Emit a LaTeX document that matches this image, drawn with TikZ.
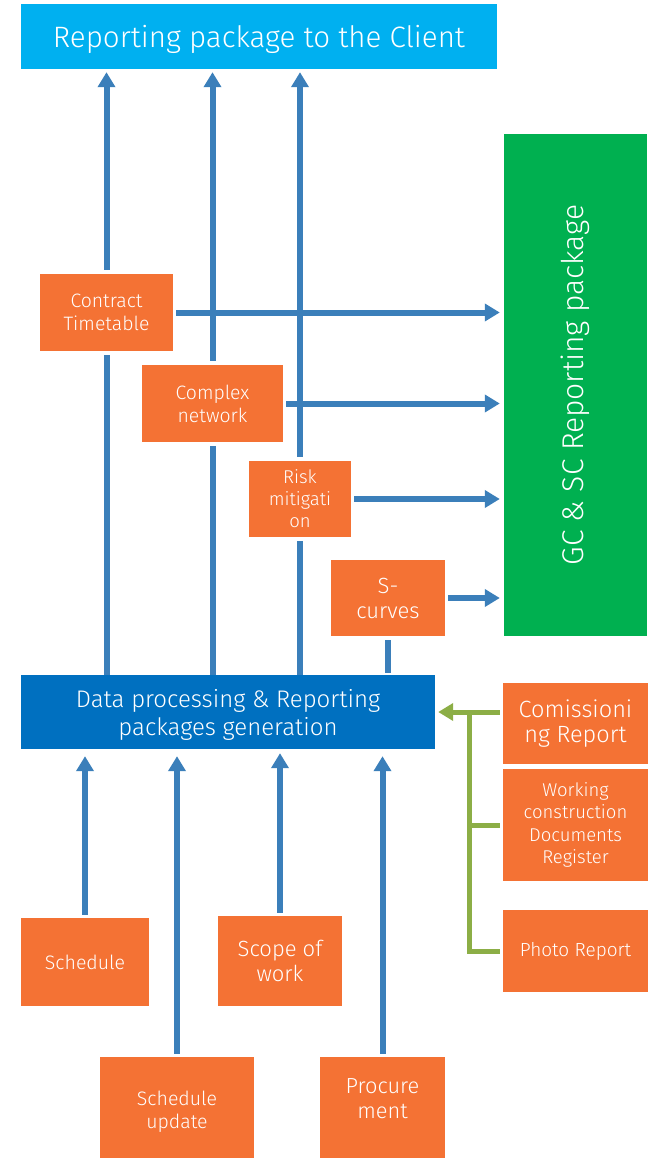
\documentclass[tikz,border=0pt]{standalone}
\usepackage{fontspec}
\setmainfont{Fira Sans Light}
\usetikzlibrary{arrows.meta}
\definecolor{clientblue}{HTML}{00B0F0}
\definecolor{procblue}{HTML}{0070C0}
\definecolor{gcgreen}{HTML}{00B050}
\definecolor{boxorange}{HTML}{F47234}
\definecolor{arrowblue}{HTML}{3B7FBA}
\definecolor{linkgreen}{HTML}{8CAE46}
\tikzset{
  obox/.style={fill=boxorange, text=white, inner sep=0pt, align=center},
  bbox/.style={inner sep=0pt, text=white, align=center},
  bline/.style={draw=arrowblue, line width=6pt},
  barrow/.style={bline, -{Triangle[width=17pt,length=15pt]}},
  gline/.style={draw=linkgreen, line width=5pt},
  garrow/.style={gline, -{Triangle[width=17pt,length=15pt]}},
}
\newcommand{\fsz}[2]{\fontsize{#1}{#2}\selectfont}
\newcommand{\shifted}[2]{\raisebox{#1}[\height][\depth]{\begin{tabular}{@{}c@{}}#2\end{tabular}}}
\begin{document}
\begin{tikzpicture}[x=1pt,y=-1pt]
\useasboundingbox (0,0) rectangle (653,1158);
% boxes
\node[bbox, fill=clientblue, minimum width=476, minimum height=65, font=\fsz{29.5}{34}] (client) at (259,36.5) {\shifted{-4pt}{Reporting package to the Client}};
\node[bbox, fill=gcgreen, rotate=90, minimum width=502, minimum height=143, font=\fsz{30}{34}] (gc) at (575.5,385) {GC \& SC Reporting package};
\node[obox, minimum width=133, minimum height=77, font=\fsz{19.4}{23}] (ct) at (106.5,312.5) {Contract\\Timetable};
\node[obox, minimum width=141, minimum height=77, font=\fsz{19.4}{23}] (cn) at (212.5,403.5) {Complex\\network};
\node[obox, minimum width=102, minimum height=76, font=\fsz{18.5}{22}] (rm) at (300,499) {Risk\\mitigati\\on};
\node[obox, minimum width=114, minimum height=76, font=\fsz{22}{25}] (sc) at (388,598) {S-\\curves};
\node[bbox, fill=procblue, minimum width=414, minimum height=74, font=\fsz{24}{28}] (dp) at (228,712) {\shifted{-4pt}{Data processing \& Reporting\\packages generation}};
\node[obox, minimum width=145, minimum height=81, font=\fsz{23.5}{25}] (comm) at (575.5,723.5) {Comissioni\\ng Report};
\node[obox, minimum width=145, minimum height=112, font=\fsz{18.5}{22.5}] (wcd) at (575.5,825) {Working\\construction\\Documents\\Register};
\node[obox, minimum width=145, minimum height=82, font=\fsz{19}{22}] (photo) at (575.5,951) {Photo Report};
\node[obox, minimum width=128, minimum height=88, font=\fsz{19.5}{24}] (sched) at (85,962) {Schedule};
\node[obox, minimum width=124, minimum height=90, font=\fsz{22}{25}] (scope) at (280,961) {Scope of\\work};
\node[obox, minimum width=154, minimum height=101, font=\fsz{19.5}{23}] (supd) at (177,1107.5) {\shifted{-5pt}{Schedule\\update}};
\node[obox, minimum width=125, minimum height=101, font=\fsz{21.8}{25}] (proc) at (382.5,1107.5) {\shifted{7pt}{Procure\\ment}};
% upward arrows to the client
\draw[bline, shorten >=4pt] (dp.north -| ct.south) -- (ct.south);
\draw[barrow, shorten <=4pt, shorten >=3pt] (ct.north) -- (ct.north |- client.south);
\draw[bline, shorten >=4pt] (dp.north -| cn.south) -- (cn.south);
\draw[barrow, shorten <=4pt, shorten >=3pt] (cn.north) -- (cn.north |- client.south);
\draw[bline, shorten >=4pt] (dp.north -| rm.south) -- (rm.south);
\draw[barrow, shorten <=4pt, shorten >=3pt] (rm.north) -- (rm.north |- client.south);
\draw[bline, shorten <=4pt, shorten >=2pt] (sc.south) -- (sc.south |- dp.north);
% arrows to GC & SC package (gc.north is its left side, the node is rotated)
\draw[barrow, shorten <=3pt, shorten >=4pt] (ct.east) -- (ct.east -| gc.north);
\draw[barrow, shorten <=3pt, shorten >=4pt] (cn.east) -- (cn.east -| gc.north);
\draw[barrow, shorten <=3pt, shorten >=4pt] (rm.east) -- (rm.east -| gc.north);
\draw[barrow, shorten <=3pt, shorten >=4pt] (sc.east) -- (sc.east -| gc.north);
% inputs from below
\draw[barrow, shorten <=3pt, shorten >=7pt] (sched.north) -- (sched.north |- dp.south);
\draw[barrow, shorten <=3pt, shorten >=7pt] (supd.north) -- (supd.north |- dp.south);
\draw[barrow, shorten <=3pt, shorten >=4pt] (scope.north) -- (scope.north |- dp.south);
\draw[barrow, shorten <=3pt, shorten >=7pt] (proc.north) -- (proc.north |- dp.south);
% green inputs from the right
\coordinate (bus) at (469,712);
\draw[garrow, shorten <=3pt, shorten >=3pt] (comm.west |- dp.east) -- (dp.east);
\draw[gline, shorten <=3pt] (wcd.west) -- (wcd.west -| bus);
\draw[gline, shorten <=3pt] (photo.west) -| (bus);
\end{tikzpicture}
\end{document}
